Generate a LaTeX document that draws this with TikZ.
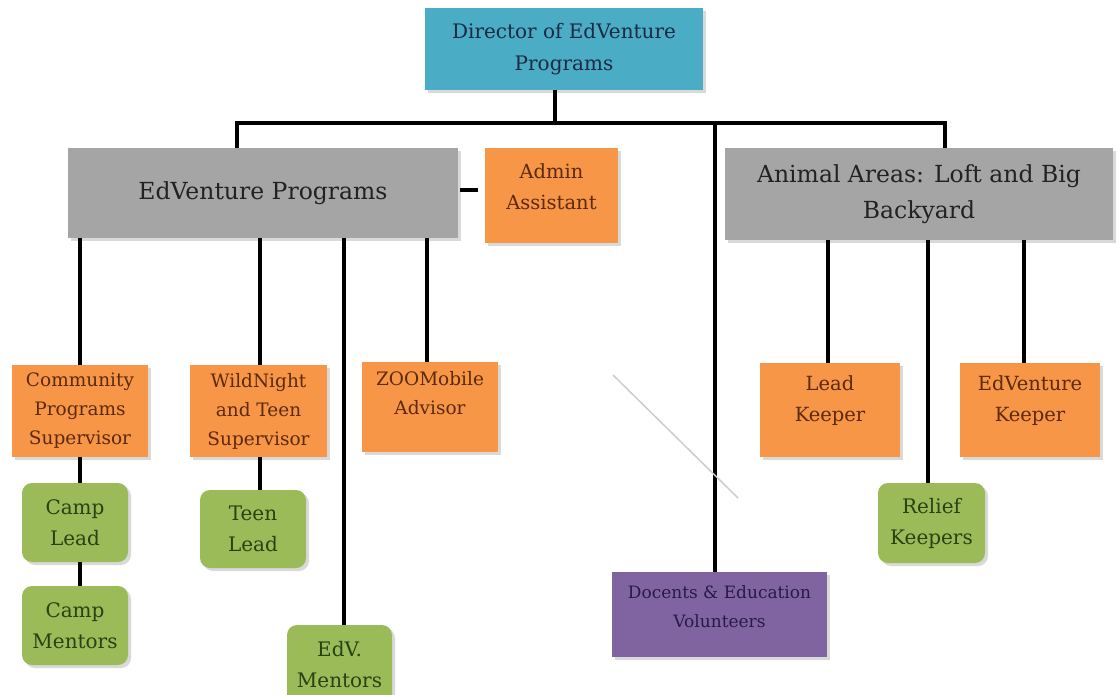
\documentclass[tikz,border=0pt]{standalone}
\usepackage{fontspec}
\setmainfont{DejaVu Serif}
\usetikzlibrary{shadows}
\definecolor{dirblue}{RGB}{75,172,198}
\definecolor{dirtext}{RGB}{28,42,68}
\definecolor{grayfill}{RGB}{165,165,165}
\definecolor{graytext}{RGB}{34,34,34}
\definecolor{orfill}{RGB}{247,150,70}
\definecolor{ortext}{RGB}{92,42,14}
\definecolor{grfill}{RGB}{155,187,89}
\definecolor{grtext}{RGB}{40,66,18}
\definecolor{pufill}{RGB}{128,100,162}
\definecolor{putext}{RGB}{40,26,70}
\tikzset{
  boxbase/.style={inner sep=2pt, align=center,
    drop shadow={shadow xshift=3pt, shadow yshift=-3pt, fill=black!25, opacity=0.6}},
  dirbox/.style={boxbase, fill=dirblue, text=dirtext, font=\fontsize{20}{32}\selectfont},
  graybox/.style={boxbase, fill=grayfill, text=graytext, font=\fontsize{23.5}{36}\selectfont},
  orbox/.style={boxbase, fill=orfill, text=ortext, font=\fontsize{18.5}{29}\selectfont},
  orboxb/.style={orbox, font=\fontsize{19.5}{31}\selectfont},
  grbox/.style={boxbase, fill=grfill, text=grtext, rounded corners=10pt, font=\fontsize{20}{31}\selectfont},
  pubox/.style={boxbase, fill=pufill, text=putext, font=\fontsize{17}{29}\selectfont},
  conn/.style={line width=4pt, black},
}
\begin{document}
\begin{tikzpicture}[x=1pt,y=-1pt]
\useasboundingbox (0,0) rectangle (1118,694);
\clip (0,0) rectangle (1118,694);
% top level
\node[dirbox, minimum width=278, minimum height=82] (dir) at (564,49) {Director of EdVenture\\Programs};
\node[graybox, minimum width=390, minimum height=90] (edv) at (263,193) {EdVenture Programs};
\node[orboxb, minimum width=133, minimum height=95] (adm) at (551.5,195.5) {Admin\\Assistant\\[-13pt]\mbox{}};
\node[graybox, minimum width=388, minimum height=92] (ani) at (919,194) {Animal Areas: Loft and Big\\Backyard};
\node[pubox, minimum width=215, minimum height=85] (doc) at (719.5,614.5) {Docents \& Education\\Volunteers\\[-13pt]\mbox{}};
% EdVenture children
\node[orbox, minimum width=136, minimum height=92] (cps) at (80,411) {Community\\Programs\\Supervisor};
\node[orbox, minimum width=137, minimum height=92] (wn) at (258.5,411) {WildNight\\and Teen\\Supervisor};
\node[orbox, minimum width=136, minimum height=90] (zoo) at (430,407) {ZOOMobile\\Advisor\\[-1pt]\mbox{}};
\node[grbox, minimum width=105, minimum height=80] (edvm) at (339.5,665) {EdV.\\Mentors};
\node[grbox, minimum width=106, minimum height=79] (cl) at (75,522.5) {Camp\\Lead};
\node[grbox, minimum width=106, minimum height=79] (cm) at (75,625.5) {Camp\\Mentors};
\node[grbox, minimum width=106, minimum height=78] (tl) at (253,529) {Teen\\Lead};
% Animal children
\node[orboxb, minimum width=140, minimum height=94] (lk) at (830,410) {Lead\\Keeper\\[-8pt]\mbox{}};
\node[grbox, minimum width=107, minimum height=80] (rk) at (931.5,523) {Relief\\Keepers};
\node[orboxb, minimum width=140, minimum height=94] (ek) at (1030,410) {EdVenture\\Keeper\\[-8pt]\mbox{}};
% bar coordinates
\coordinate (barL) at (237,123);
\coordinate (barR) at (945,123);
\coordinate (barD) at (715,123);
\coordinate (barM) at (555,123);
% connectors
\draw[conn] (dir.south -| barM) -- (barM);
\draw[conn, line cap=rect] (barL) -- (barR);
\draw[conn] (barL) -- (barL |- edv.north);
\draw[conn] (barR) -- (barR |- ani.north);
\draw[conn] (barD) -- (barD |- doc.north);
\draw[conn] ([xshift=2pt,yshift=3pt]edv.east) -- ([xshift=-7pt,yshift=3pt]edv.east -| adm.west);
\draw[conn] (cps.north) -- (cps.north |- edv.south);
\draw[conn] ([xshift=1.5pt]wn.north) -- ([xshift=1.5pt]wn.north |- edv.south);
\draw[conn] ([xshift=4.5pt]edvm.north) -- ([xshift=4.5pt]edvm.north |- edv.south);
\draw[conn] ([xshift=-3pt]zoo.north) -- ([xshift=-3pt]zoo.north |- edv.south);
\draw[conn] ([xshift=5pt]cl.north) -- ([xshift=5pt]cl.north |- cps.south);
\draw[conn] ([xshift=5pt]cm.north) -- ([xshift=5pt]cm.north |- cl.south);
\draw[conn] ([xshift=7pt]tl.north) -- ([xshift=7pt]tl.north |- wn.south);
\draw[conn] ([xshift=-2pt]lk.north) -- ([xshift=-2pt]lk.north |- ani.south);
\draw[conn] ([xshift=-3.5pt]rk.north) -- ([xshift=-3.5pt]rk.north |- ani.south);
\draw[conn] ([xshift=-6pt]ek.north) -- ([xshift=-6pt]ek.north |- ani.south);
% faint stray line
\draw[black!20, line width=1.5pt] (613,375) -- (738,498);
\end{tikzpicture}
\end{document}
